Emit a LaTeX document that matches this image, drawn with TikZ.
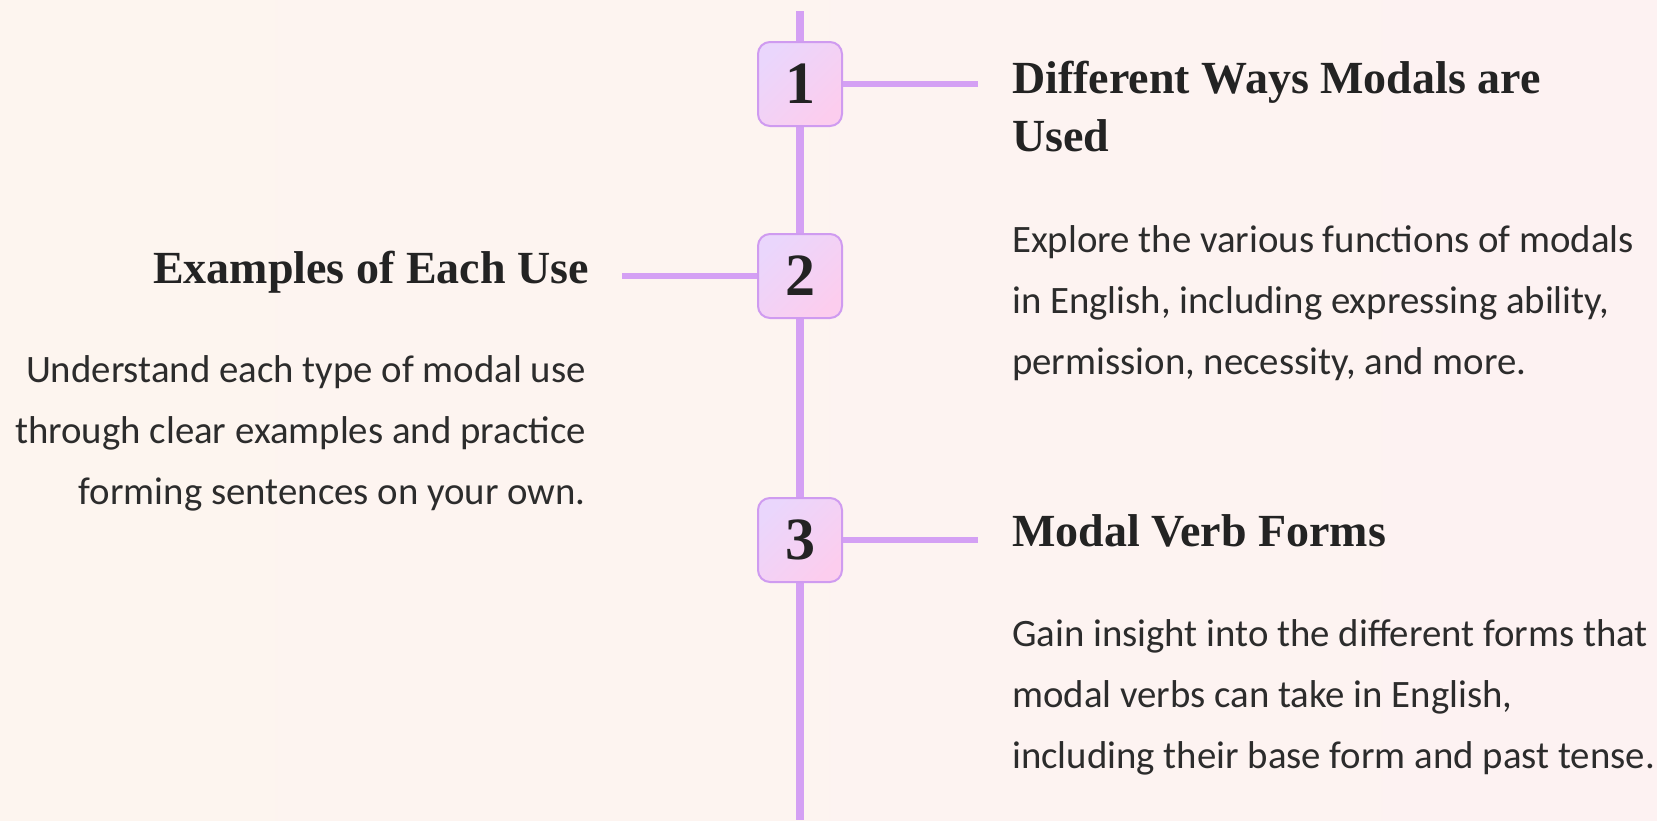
\documentclass[tikz,border=0pt]{standalone}
\usepackage{fontspec}
\setmainfont{Carlito}
\newfontfamily\headfont{Liberation Serif}
\usetikzlibrary{positioning}
\usetikzlibrary{backgrounds}

\definecolor{spine}{HTML}{D4A0F4}
\definecolor{boxline}{HTML}{CF9BF0}
\definecolor{lavender}{HTML}{EAD6FC}
\definecolor{blush}{HTML}{FCCDEE}
\definecolor{ink}{HTML}{232323}
\definecolor{bodyink}{HTML}{2C2C2C}
\definecolor{bgleft}{HTML}{FDF5EF}
\definecolor{bgmid}{HTML}{FCECE0}
\definecolor{bgright}{HTML}{FDF2F2}

\tikzset{
  numbox/.style={draw=boxline, line width=2pt, rounded corners=12pt,
    minimum size=84pt, inner sep=0pt,
    top color=lavender, bottom color=blush, shading angle=45,
    font=\headfont\bfseries\fontsize{60}{60}\selectfont, text=ink},
  heading/.style={inner sep=0pt, text=ink,
    font=\headfont\bfseries\fontsize{46}{58}\selectfont},
  blurb/.style={inner sep=0pt, text=bodyink,
    font=\fontsize{38.8}{61}\selectfont},
  spineline/.style={spine, line width=8pt},
  link/.style={spine, line width=6pt},
}

\begin{document}
\begin{tikzpicture}[x=1pt, y=-1pt]

  % background wash
  \shade [left color=bgleft, middle color=bgmid, right color=bgright]
    (0,0) rectangle (1657,820);
  \useasboundingbox (0,0) rectangle (1657,820);

  % timeline spine
  \coordinate (top) at (800,11);
  \coordinate (bottom) at (800,820);
  \draw [spineline] (top) -- (bottom);

  % step markers
  \node [numbox] (num1) at (800,84) {1};
  \node [numbox] (num2) at (800,276) {2};
  \node [numbox] (num3) at (800,540) {3};

  % connector ends
  \coordinate (end1) at ([xshift=135pt] num1.east);
  \coordinate (end2) at ([xshift=-135pt] num2.west);
  \coordinate (end3) at ([xshift=135pt] num3.east);

  \draw [link] (num1.east) -- (end1);
  \draw [link] (end2) -- (num2.west);
  \draw [link] (num3.east) -- (end3);

  % step 1 (base anchor sits on the last line)
  \node [heading, anchor=base west, align=left] (head1) at (1012,151)
    {Different Ways Modals are\\Used};
  \node [blurb, anchor=base west, align=left] (text1) at (1012,374)
    {Explore the various functions of modals\\
     in English, including expressing ability,\\
     permission, necessity, and more.};

  % step 2
  \node [heading, anchor=base east] (head2) at (589,283)
    {Examples of Each Use};
  \node [blurb, anchor=base east, align=right] (text2) at (586,504)
    {Understand each type of modal use\\
     through clear examples and practice\\
     forming sentences on your own.};

  % step 3
  \node [heading, anchor=base west] (head3) at (1012,546)
    {Modal Verb Forms};
  \node [blurb, anchor=base west, align=left] (text3) at (1012,768)
    {Gain insight into the different forms that\\
     modal verbs can take in English,\\
     including their base form and past tense.};

\end{tikzpicture}
\end{document}
